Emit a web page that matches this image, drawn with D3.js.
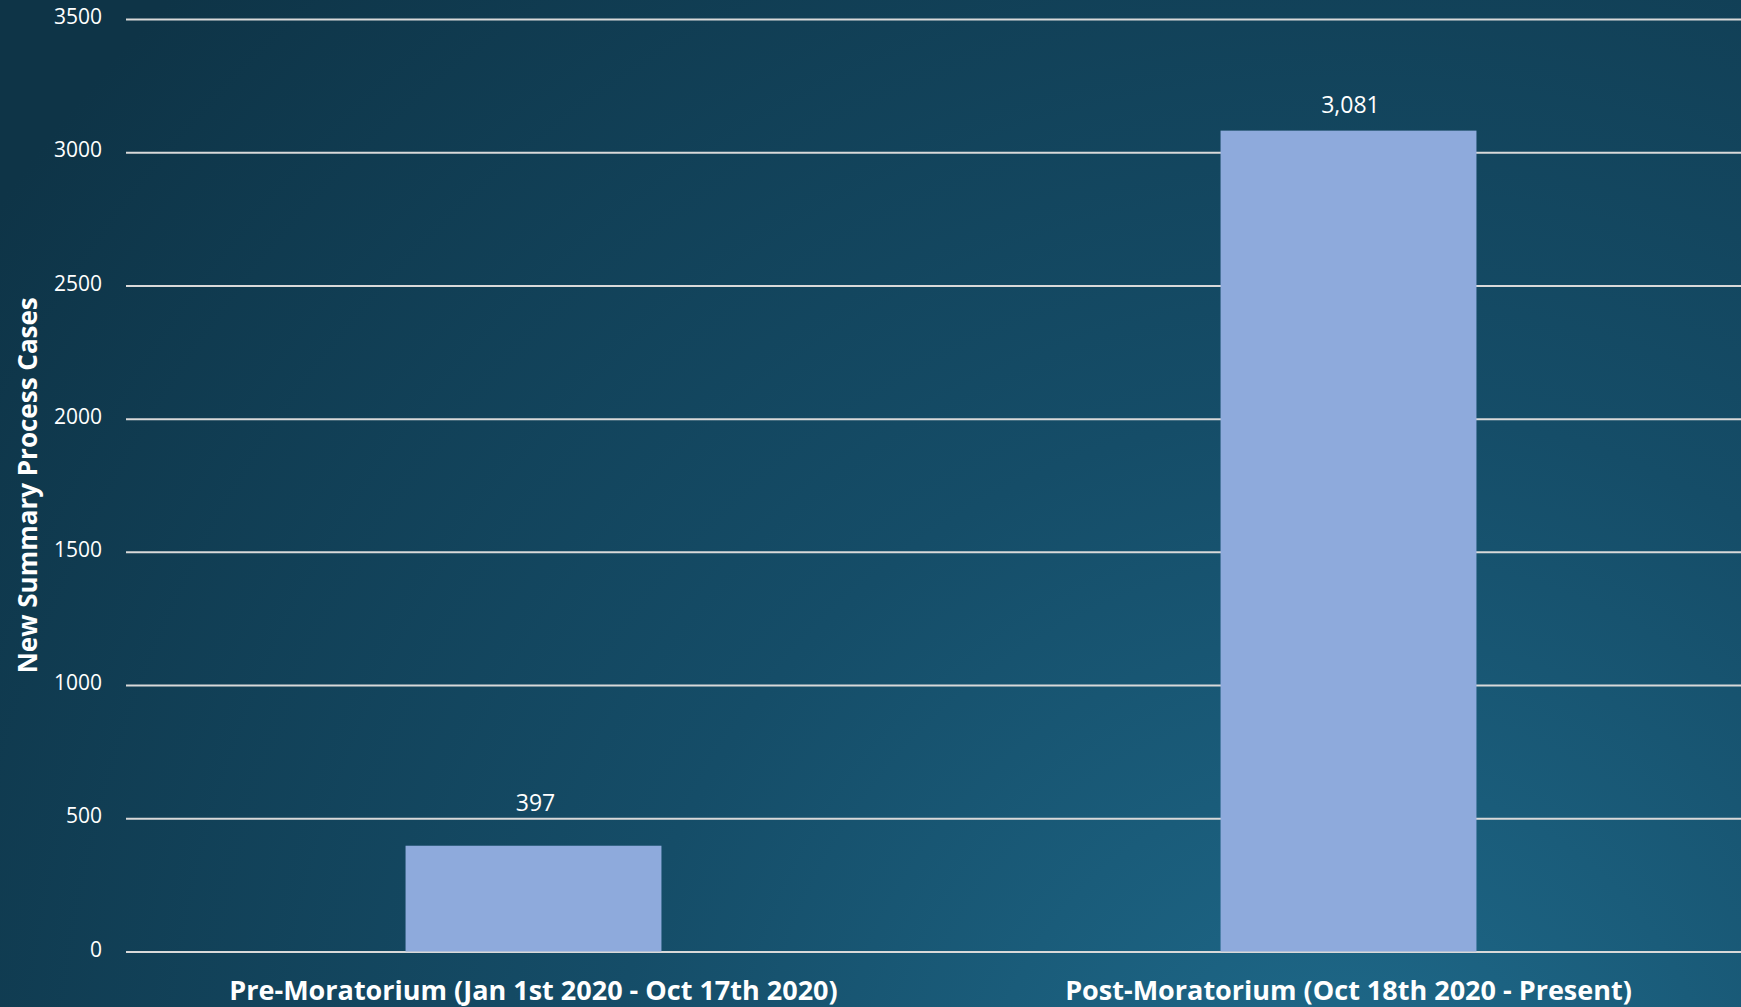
<!DOCTYPE html>
<html>
<head>
<meta charset="utf-8">
<script src="https://cdn.jsdelivr.net/npm/d3@7"></script>
<style>
  html, body { margin: 0; padding: 0; background: #12445c; overflow: hidden; }
  text { font-family: "Open Sans", "Noto Sans", sans-serif; fill: #ffffff; }
  .grid line { stroke: #d9d9d9; stroke-width: 2; }
  .bar { fill: #8eaadc; }
</style>
</head>
<body>
<div class="container"></div>
<script>
// chart data
var categories = ['Pre-Moratorium (Jan 1st 2020 - Oct 17th 2020)', 'Post-Moratorium (Oct 18th 2020 - Present)'];
var cases = [397, 3081];
var yTicks = [0, 500, 1000, 1500, 2000, 2500, 3000, 3500];
var yTitle = 'New Summary Process Cases';

const WIDTH = 1741;
const HEIGHT = 1007;
const LEFT = 126;
const RIGHT = 1756;   // plot runs past the right edge in the original
const TOP = 19;
const BOTTOM = 951.5;
const LABEL_LIFT = [35, 18];

var svg = d3.select('.container').append('svg')
  .attr('width', WIDTH)
  .attr('height', HEIGHT);

// background
var defs = svg.append('defs');
var grad = defs.append('radialGradient')
  .attr('id', 'bg')
  .attr('gradientUnits', 'userSpaceOnUse')
  .attr('cx', 1350).attr('cy', 1150)
  .attr('r', 1650);
grad.append('stop').attr('offset', '0%').attr('stop-color', '#1f6b8c');
grad.append('stop').attr('offset', '45%').attr('stop-color', '#154d68');
grad.append('stop').attr('offset', '100%').attr('stop-color', '#0e3447');

svg.append('rect')
  .attr('width', WIDTH)
  .attr('height', HEIGHT)
  .attr('fill', 'url(#bg)');

var xScale = d3.scaleBand()
  .domain(categories)
  .range([LEFT, RIGHT])
  .paddingInner(0.686)
  .paddingOuter(0.343);

var yScale = d3.scaleLinear()
  .domain([0, 3500])
  .range([BOTTOM, TOP]);

// gridlines + tick labels
var yAxis = d3.axisLeft(yScale)
  .tickValues(yTicks)
  .tickFormat(d3.format('d'))
  .tickSize(-(RIGHT - LEFT))
  .tickPadding(24);

var gy = svg.append('g')
  .attr('class', 'grid')
  .attr('transform', 'translate(' + LEFT + ',0)')
  .call(yAxis);
gy.select('.domain').remove();
gy.selectAll('.tick text')
  .attr('font-size', 21)
  .attr('fill', '#ffffff')
  .attr('dy', '0.22em');

// bars
svg.selectAll('rect.bar').data(cases)
  .enter().append('rect')
  .attr('class', 'bar')
  .attr('x', function(d, i){ return xScale(categories[i]); })
  .attr('y', function(d){ return yScale(d); })
  .attr('width', xScale.bandwidth())
  .attr('height', function(d){ return BOTTOM - yScale(d); });

// value labels
svg.selectAll('text.value').data(cases)
  .enter().append('text')
  .attr('class', 'value')
  .attr('x', function(d, i){ return xScale(categories[i]) + xScale.bandwidth() / 2 + 2; })
  .attr('y', function(d, i){ return yScale(d) - LABEL_LIFT[i]; })
  .attr('text-anchor', 'middle')
  .attr('font-size', 23)
  .text(function(d){ return d3.format(',')(d); });

// category labels
svg.selectAll('text.cat').data(categories)
  .enter().append('text')
  .attr('class', 'cat')
  .attr('x', function(d){ return xScale(d) + xScale.bandwidth() / 2; })
  .attr('y', 1000)
  .attr('text-anchor', 'middle')
  .attr('font-size', 27)
  .attr('font-weight', 'bold')
  .text(function(d){ return d; });

// y title
svg.append('text')
  .attr('transform', 'translate(37,' + (TOP + BOTTOM) / 2 + ') rotate(-90)')
  .attr('text-anchor', 'middle')
  .attr('font-size', 26)
  .attr('font-weight', 'bold')
  .text(yTitle);
</script>
</body>
</html>
